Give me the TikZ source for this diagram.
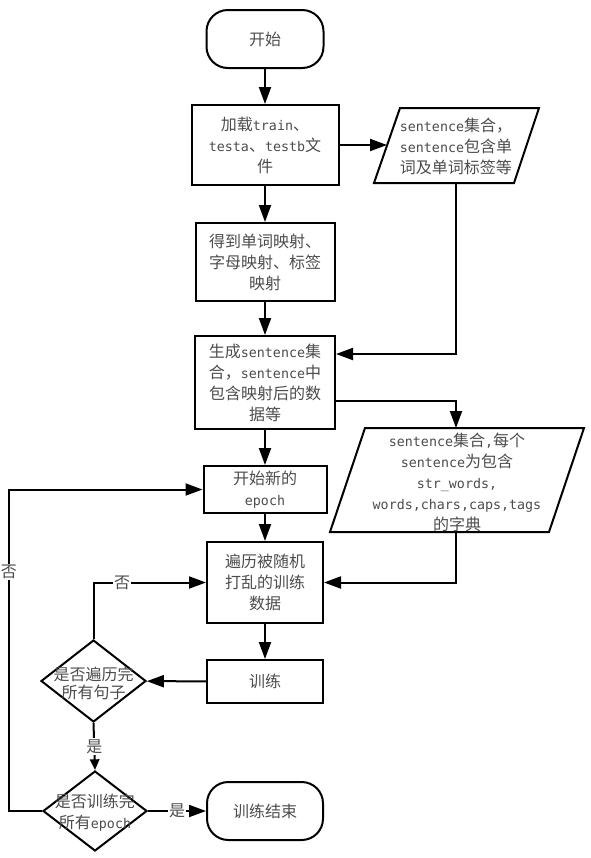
\documentclass[tikz,border=0pt]{standalone}
\usepackage{fontspec}
\setmainfont{Noto Sans CJK SC}
\newfontfamily\lat{DejaVu Sans Mono}
\usetikzlibrary{shapes.geometric,arrows.meta,calc}
\newcommand\en[1]{{\lat\fontsize{10pt}{15.75pt}\selectfont #1}}
\begin{document}
\begin{tikzpicture}[x=0.75pt,y=-0.75pt, line width=1.5pt,
  sz/.style 2 args={minimum width=#1*0.75pt, minimum height=#2*0.75pt},
  box/.style={draw, rectangle, inner sep=0pt, align=center, text=black!70, font=\fontsize{12pt}{15.75pt}\selectfont},
  term/.style={box, rounded corners=16pt},
  dia/.style={draw, diamond, inner sep=0pt},
  txt/.style={align=center, inner sep=0pt, text=black!70, font=\fontsize{12pt}{15.75pt}\selectfont},
  lbl/.style={fill=white, inner sep=1pt, text=black!70, font=\fontsize{12pt}{14pt}\selectfont},
  arr/.style={-{Triangle[length=12.75pt,width=9pt]}},
  arrs/.style={-{Triangle[length=8pt,width=7pt]}}]
\useasboundingbox (0,0) rectangle (591,858);
% parallelogram 1
\coordinate (p1a) at (374,183);
\coordinate (p1b) at (514,183);
\coordinate (p1c) at (539,108);
\coordinate (p1d) at (400,108);
\coordinate (p1w) at (387,145);
\coordinate (p1s) at (456,183);
\draw (p1a) -- (p1b) -- (p1c) -- (p1d) -- cycle;
% parallelogram 2
\coordinate (p2a) at (330,532);
\coordinate (p2b) at (549,532);
\coordinate (p2c) at (584,428);
\coordinate (p2d) at (365,428);
\coordinate (p2n) at (456,428);
\coordinate (p2s) at (456,532);
\draw (p2a) -- (p2b) -- (p2c) -- (p2d) -- cycle;
\node[term, sz={117}{58}] (start) at (265,39) {开始};
\node[box, sz={147}{80}] (b1) at (265,145) {加载\en{train}、\\\en{testa}、\en{testb}文\\件};
\node[txt, align=left] (p1t) at (456,146.5) {\en{sentence}集合，\\\en{sentence}包含单\\词及单词标签等};
\node[box, sz={139}{78}] (b2) at (265,262) {得到单词映射、\\字母映射、标签\\映射};
\node[box, sz={140}{93}] (b3) at (265,382.5) {生成\en{sentence}集\\合，\en{sentence}中\\包含映射后的数\\据等};
\node[txt] (p2t) at (457,482) {\en{sentence}集合\en{,}每个\\\en{sentence}为包含\\\en{str\_words,}\\\en{words,chars,caps,tags}\\的字典};
\node[box, sz={123}{47}] (b4) at (265,489.5) {开始新的\\\en{epoch}};
\node[box, sz={116}{81}] (b5) at (265,582.5) {遍历被随机\\打乱的训练\\数据};
\node[box, sz={116}{43}] (b6) at (265,681.5) {训练};
\node[dia, sz={105}{82}] (d1) at (93.5,681) {};
\node[txt, font=\fontsize{12pt}{13.5pt}\selectfont] (d1t) at (93.5,683) {是否遍历完\\所有句子};
\node[dia, sz={104}{80}] (d2) at (95,811) {};
\node[txt] (d2t) at (95,813) {是否训练完\\所有\en{epoch}};
\node[term, sz={116}{58}] (end) at (265,811) {训练结束};
\coordinate (b3in) at ($(b3.north east)!0.2!(b3.south east)$);
\coordinate (b3out) at ($(b3.north east)!0.69!(b3.south east)$);
\coordinate (lft) at (9,811);
\draw[arr] (start) -- (b1);
\draw[arr] (b1) -- (b2);
\draw[arr] (b2) -- (b3);
\draw[arr] (b3) -- (b4);
\draw[arr] (b4) -- (b5);
\draw[arr] (b5) -- (b6);
\draw[arr] (b1.east) -- (p1w);
\draw[arr] (p1s) |- (b3in);
\draw[arr] (b3out) -| (p2n);
\draw[arr] (p2s) |- (b5.east);
\draw[arr] (b6) -- (d1);
\draw[arr] (d1.north) |- node[lbl, pos=0.627] {否} (b5.west);
\draw[arrs] (d1.south) -- node[lbl] {是} (d2.north);
\draw[arr] (d2.east) -- node[lbl] {是} (end.west);
\draw[arr] (d2.west) -- (lft) |- node[lbl, pos=0.372] {否} (b4.west);
\end{tikzpicture}
\end{document}
